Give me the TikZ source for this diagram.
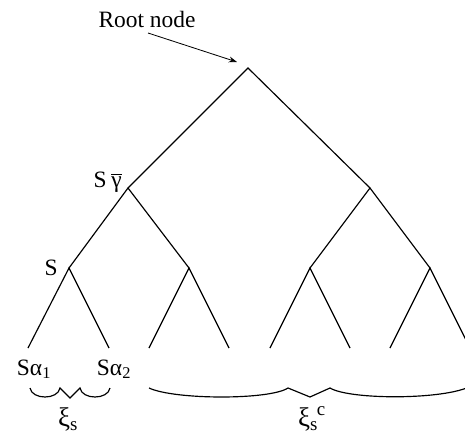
\documentclass[tikz,border=0pt]{standalone}
\usepackage{fontspec}
\setmainfont{Liberation Serif}
\usetikzlibrary{arrows.meta}
\tikzset{
  branch/.style={line width=1pt},
  curly/.style={line width=1pt,line join=miter},
  ptr/.style={line width=0.7pt,-{Stealth[length=7pt,width=5pt]}},
  lbl/.style={inner sep=0pt,font=\fontsize{20}{22}\selectfont},
  biglbl/.style={inner sep=0pt,font=\fontsize{23}{25}\selectfont}
}
\begin{document}
\begin{tikzpicture}[x=0.03cm,y=0.03cm]
\path[use as bounding box] (0,0) rectangle (465,435);
\clip (0,0) rectangle (465,435);
% inner nodes of the tree
\coordinate (root) at (248,367);
\coordinate (sg) at (128,247);
\coordinate (rc) at (370,247);
\coordinate (s) at (69,167);
\coordinate (sr) at (189,167);
\coordinate (rl) at (310,167);
\coordinate (rr) at (430,167);
% leaves
\coordinate (a1) at (28,87);
\coordinate (a2) at (109,87);
\coordinate (l3) at (149,87);
\coordinate (l4) at (229,87);
\coordinate (l5) at (270,87);
\coordinate (l6) at (350,87);
\coordinate (l7) at (390,87);
\coordinate (l8) at (470,87);
% branches
\draw[branch] (sg) -- (root) -- (rc);
\draw[branch] (s) -- (sg) -- (sr);
\draw[branch] (rl) -- (rc) -- (rr);
\draw[branch] (a1) -- (s) -- (a2);
\draw[branch] (l3) -- (sr) -- (l4);
\draw[branch] (l5) -- (rl) -- (l6);
\draw[branch] (l7) -- (rr) -- (l8);
% labels
\node[lbl,anchor=base] (rootlbl) at (147,408) {Root node};
\coordinate (ptrstart) at (148,402);
\coordinate (ptrend) at (237,373);
\draw[ptr] (ptrstart) -- (ptrend);
\node[lbl,anchor=base east] (sglbl) at (122,248) {S\kern4pt\ensuremath{\overline{\hbox{γ}}}};
\node[lbl,anchor=base east] (slbl) at (58,160) {S};
\node[lbl,anchor=base] (a1lbl) at (34,60) {Sα\textsubscript{1}};
\node[lbl,anchor=base] (a2lbl) at (114,60) {Sα\textsubscript{2}};
% braces
\draw[curly] (30,47) .. controls (32,35) and (58,35) .. (60,47) -- (70,37) -- (80,47) .. controls (82,35) and (108,35) .. (110,47);
\draw[curly] (149,47) .. controls (175,35) and (270,35) .. (288,47) -- (310,38) -- (330,47) .. controls (350,35) and (445,35) .. (471,49);
\node[biglbl,anchor=base] (xilbl) at (68,9) {ξ\textsubscript{s}};
\node[biglbl,anchor=base] (xiclbl) at (312,9) {ξ\textsubscript{s}\kern-1pt\textsuperscript{c}};
\end{tikzpicture}
\end{document}
